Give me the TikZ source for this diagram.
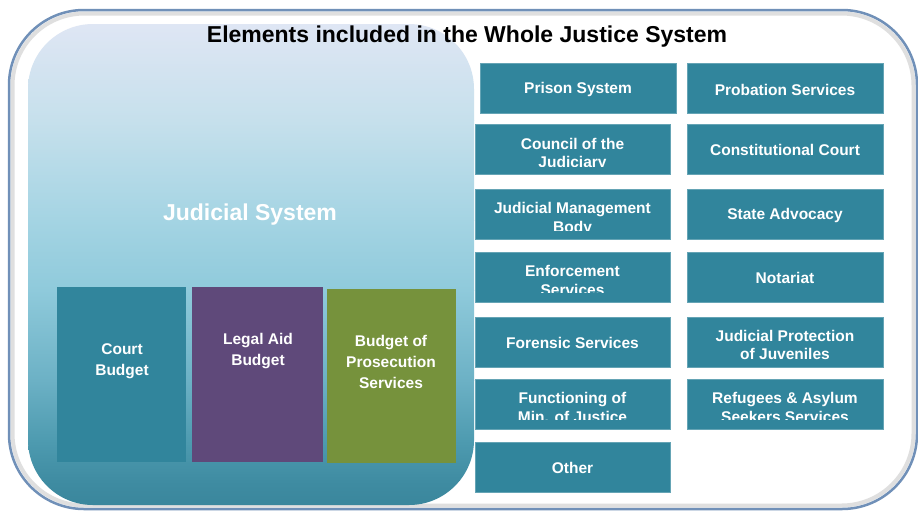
\documentclass[tikz,border=0pt]{standalone}
\usepackage{fontspec}
\setmainfont{Liberation Sans}
\definecolor{boxteal}{HTML}{31859C}
\definecolor{boxpurple}{HTML}{5F497A}
\definecolor{boxgreen}{HTML}{76923C}
\definecolor{framecol}{HTML}{7090B8}
\definecolor{pA}{HTML}{3A869C}
\definecolor{pB}{HTML}{3F8CA2}
\definecolor{pC}{HTML}{4E9BB0}
\definecolor{pD}{HTML}{6CB1C5}
\definecolor{pE}{HTML}{8FCADB}
\definecolor{pF}{HTML}{A4D4E3}
\definecolor{pG}{HTML}{C6E0EC}
\definecolor{pH}{HTML}{DFE6F4}
\begin{document}
\begin{tikzpicture}[x=1pt,y=-1pt,
  rbox/.style={fill=boxteal, draw=boxteal!75!white, line width=0.6pt, minimum width=195pt, minimum height=50pt, inner sep=0pt, text=white, font=\bfseries\fontsize{15.5}{18.5}\selectfont, align=center},
  bbox/.style={draw=none, minimum width=129pt, minimum height=175pt, inner sep=0pt},
  wtext/.style={text=white, font=\bfseries\fontsize{15.5}{18.5}\selectfont, align=center, inner sep=0pt},
  ltext/.style={text=white, font=\bfseries\fontsize{15.5}{18.5}\selectfont, inner sep=0pt, anchor=base},
  btext/.style={text=white, font=\bfseries\fontsize{15.5}{21}\selectfont, align=center, inner sep=0pt}
]
\useasboundingbox (0,0) rectangle (918,512);
% outer frame
\fill[white] (0,0) rectangle (918,512);
\draw[gray!25, line width=4pt, rounded corners=72pt] (12.5,13.5) rectangle (913.5,505.5);
\draw[framecol, line width=2.5pt, rounded corners=75pt] (9,10) rectangle (917,509);
% panel with piecewise vertical gradient
\begin{scope}
\clip[rounded corners=65pt] (28,24) rectangle (474,505);
\shade[top color=pH, bottom color=pG] (27,23) rectangle (475,120.5);
\shade[top color=pG, bottom color=pF] (27,120) rectangle (475,220.5);
\shade[top color=pF, bottom color=pE] (27,220) rectangle (475,290.5);
\shade[top color=pE, bottom color=pD] (27,290) rectangle (475,380.5);
\shade[top color=pD, bottom color=pC] (27,380) rectangle (475,440.5);
\shade[top color=pC, bottom color=pB] (27,440) rectangle (475,480.5);
\shade[top color=pB, bottom color=pA] (27,480) rectangle (475,506);
\end{scope}
\node[font=\bfseries\fontsize{23}{27}\selectfont] (title) at (467,37) {Elements included in the Whole Justice System};
\node[text=white, font=\bfseries\fontsize{23}{27}\selectfont] (jsys) at (250,215) {Judicial System};
% left budget boxes
\node[bbox, fill=boxteal] (court) at (121.5,374.5) {};
\node[bbox, fill=boxpurple, minimum width=131pt] (legal) at (257.5,374.5) {};
\node[bbox, fill=boxgreen, minimum height=174pt] (prosec) at (391.5,376) {};
\node[btext] (courtt) at (122,361.5) {Court\\Budget};
\node[btext] (legalt) at (258,351.5) {Legal Aid\\Budget};
\node[btext] (prosect) at (391,362) {Budget of\\Prosecution\\Services};
% right column 1
\node[rbox, minimum width=196pt] (prison) at (578,88.5) {};
\node[wtext] (prisont) at (578,89.5) {Prison System};
\node[rbox] (council) at (572.5,149) {};
\node[rbox] (jmb) at (572.5,214) {};
\node[rbox] (enforce) at (572.5,277) {};
\node[rbox] (forensic) at (572.5,342) {};
\node[wtext] (forensict) at (572.5,343) {Forensic Services};
\node[rbox] (minjust) at (572.5,404) {};
\node[rbox] (other) at (572.5,467) {};
\node[wtext] (othert) at (572.5,468) {Other};
% right column 2
\node[rbox, minimum width=196pt] (probation) at (785,88.5) {};
\node[wtext] (probationt) at (785,89.5) {Probation Services};
\node[rbox, minimum width=196pt] (constit) at (785,149) {};
\node[wtext] (constitt) at (785,150) {Constitutional Court};
\node[rbox, minimum width=196pt] (stateadv) at (785,214) {};
\node[wtext] (stateadvt) at (785,215) {State Advocacy};
\node[rbox, minimum width=196pt] (notariat) at (785,277) {};
\node[wtext] (notariatt) at (785,278) {Notariat};
\node[rbox, minimum width=196pt] (juvenile) at (785,342) {};
\node[wtext] (juvenilet) at (785,345) {Judicial Protection\\of Juveniles};
\node[rbox, minimum width=196pt] (refugees) at (785,404) {};
% clipped two-line texts
\begin{scope}
\clip (council.north west) rectangle (671,166);
\node[ltext] (councilt1) at (572.5,149) {Council of the};
\node[ltext] (councilt2) at (572.5,167.5) {Judiciary};
\end{scope}
\begin{scope}
\clip (jmb.north west) rectangle (671,230);
\node[ltext] (jmbt1) at (572.5,213.5) {Judicial Management};
\node[ltext] (jmbt2) at (572.5,232) {Body};
\end{scope}
\begin{scope}
\clip (enforce.north west) rectangle (671,292);
\node[ltext] (enforcet1) at (572.5,276.5) {Enforcement};
\node[ltext] (enforcet2) at (572.5,295) {Services};
\end{scope}
\begin{scope}
\clip (minjust.north west) rectangle (671,419.5);
\node[ltext] (minjustt1) at (572.5,403.5) {Functioning of};
\node[ltext] (minjustt2) at (572.5,422) {Min. of Justice};
\end{scope}
\begin{scope}
\clip (refugees.north west) rectangle (884,419.5);
\node[ltext] (refugeest1) at (785,403.5) {Refugees \& Asylum};
\node[ltext] (refugeest2) at (785,422) {Seekers Services};
\end{scope}
\end{tikzpicture}
\end{document}
